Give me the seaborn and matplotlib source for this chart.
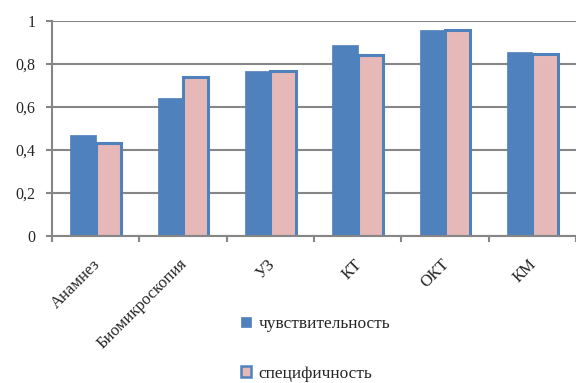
import matplotlib
matplotlib.use("Agg")
import matplotlib.pyplot as plt
import seaborn as sns
import pandas as pd
from matplotlib.patches import Patch
import matplotlib.transforms as mtransforms

# Diagnostic accuracy of examination methods
methods = ["Анамнез", "Биомикроскопия", "УЗ", "КТ", "ОКТ", "КМ"]
sensitivity = [0.467, 0.640, 0.766, 0.887, 0.955, 0.856]
specificity = [0.430, 0.740, 0.765, 0.842, 0.955, 0.843]
series = ["чувствительность", "специфичность"]
y_ticks = [0, 0.2, 0.4, 0.6, 0.8, 1.0]
y_labels = ["0", "0,2", "0,4", "0,6", "0,8", "1"]

df = pd.DataFrame({
    "method": methods * 2,
    "value": sensitivity + specificity,
    "series": [series[0]] * len(methods) + [series[1]] * len(methods),
})

BLUE = "#4F81BD"
PINK = "#E6B9B8"
GRID = "#868686"

sns.set_style("white")
plt.rcParams["font.family"] = ["Liberation Serif", "DejaVu Serif"]

fig = plt.figure(figsize=(5.76, 3.83), dpi=100)
ax = fig.add_axes([52 / 576, 1 - 235.5 / 383, 1 - 52 / 576, (235.5 - 20.7) / 383])

sns.barplot(data=df, x="method", y="value", hue="series", order=methods,
            hue_order=series, palette={series[0]: BLUE, series[1]: PINK},
            width=0.58, gap=0, saturation=1, errorbar=None, legend=False, ax=ax)

for bar in ax.containers[0]:
    bar.set_edgecolor(BLUE)
    bar.set_linewidth(0.5)
for bar in ax.containers[1]:
    bar.set_edgecolor(BLUE)
    bar.set_linewidth(2.2)

ax.set_ylim(0, 1)
ax.set_xlim(-0.5, len(methods) - 0.5)
ax.set_axisbelow(True)
ax.set_yticks(y_ticks)
ax.set_yticklabels(y_labels, fontsize=11.5)
ax.yaxis.grid(True, color=GRID, linewidth=1.5)
ax.tick_params(axis="y", length=4, width=1.5, color=GRID, pad=8, left=True)

ax.set_xticks(range(len(methods)))
ax.set_xticks([i - 0.5 for i in range(len(methods) + 1)], minor=True)
ax.tick_params(axis="x", which="major", length=0, pad=19)
ax.tick_params(axis="x", which="minor", length=4, width=1.5, color=GRID, bottom=True)
ax.set_xticklabels(methods, fontsize=12, rotation=45, ha="right", va="center",
                   rotation_mode="anchor")
offset = mtransforms.ScaledTranslation(2 / 100, 0, fig.dpi_scale_trans)
for lbl in ax.get_xticklabels():
    lbl.set_transform(lbl.get_transform() + offset)

for side in ("top", "right"):
    ax.spines[side].set_visible(False)
for side in ("left", "bottom"):
    ax.spines[side].set_color(GRID)
    ax.spines[side].set_linewidth(1.5)

ax.set_xlabel("")
ax.set_ylabel("")

handles = [Patch(facecolor=BLUE, edgecolor=BLUE, linewidth=0.5),
           Patch(facecolor=PINK, edgecolor=BLUE, linewidth=1.8)]
fig.legend(handles=handles, labels=series, loc="upper left",
           bbox_to_anchor=(241 / 576, 1 - 316 / 383), frameon=False,
           handlelength=0.55, handleheight=0.55, handletextpad=0.45,
           labelspacing=1.95, fontsize=12.5, borderpad=0, borderaxespad=0)

fig.savefig("out.png", dpi=100)
